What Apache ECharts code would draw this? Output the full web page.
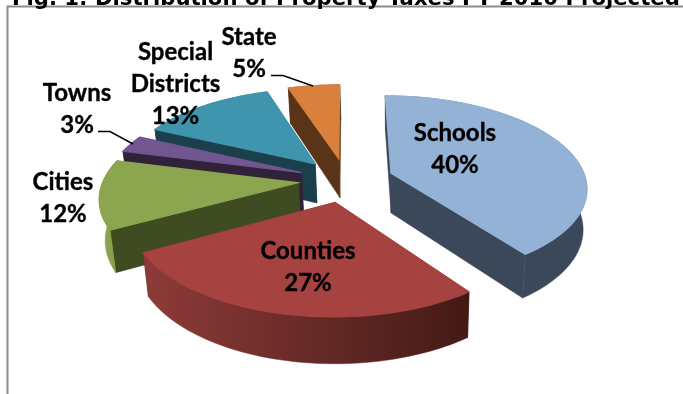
<!DOCTYPE html>
<html>
<head>
<meta charset="utf-8">
<style>html,body{margin:0;padding:0;background:#fff}#chart{width:683px;height:394px}</style>
<script src="https://cdn.jsdelivr.net/npm/echarts@6/dist/echarts.min.js"></script>
</head>
<body>
<div id="chart"></div>
<script>
// Share of property taxes by recipient, percent.
const categories = ['Schools', 'Counties', 'Cities', 'Towns', 'Special Districts', 'State'];
const shares = [40, 27, 12, 3, 13, 5];

// Face colours for each slice.
const topColors = ['#94b1d6', '#a6423f', '#8ba64e', '#72568f', '#3f95ad', '#d9803c'];
const cutColors = ['#3b485a', '#4a1c18', '#3f4c22', '#2f2239', '#1b3f4b', '#5a3419'];
const wallFrom = ['#3b485a', '#8e3b38', '#8ca950', '#2f2239', '#1b3f4b', '#5a3419'];
const wallTo = ['#3b485a', '#431a16', '#7f9b49', '#2f2239', '#1b3f4b', '#5a3419'];

// Oblique view of the pie: ellipse radii, perspective strength, explosion.
const view = { cx: 346, cy: 180, rx: 195, ry: 90.5, persp: 0.146, explode: 0.245, depth: 40 };

const total = shares.reduce((a, b) => a + b, 0);
let running = 0;
const slices = shares.map((value, index) => {
  const start = running / total * Math.PI * 2;
  running += value;
  const end = running / total * Math.PI * 2;
  return { index, start, end, mid: (start + end) / 2 };
});
// Paint the slices from the far side of the disc to the near side.
const paintOrder = slices.slice().sort((a, b) => -Math.cos(a.mid) + Math.cos(b.mid)).map(s => s.index);

function project(u, v) {
  const s = 1 / (1 - view.persp * v);
  return [view.cx + view.rx * u * s, view.cy + view.ry * v * s];
}
function drop(p) {
  return [view.cx + 1 + (p[0] - view.cx) * 0.98, p[1] + view.depth + 0.05 * (p[1] - view.cy)];
}
// A hairline stroke in the fill colour closes the seams between adjoining faces.
function poly(points, fill, lineWidth) {
  return { type: 'polygon', shape: { points }, style: { fill, stroke: fill, lineWidth } };
}

function renderSlice(params, api) {
  const slice = slices[api.value(0)];
  const i = slice.index;
  const ax = view.explode * Math.sin(slice.mid);
  const ay = -view.explode * Math.cos(slice.mid);
  const apex = project(ax, ay);
  const arc = [];
  const steps = Math.max(8, Math.round((slice.end - slice.start) * 40));
  for (let k = 0; k <= steps; k++) {
    const t = slice.start + (slice.end - slice.start) * k / steps;
    arc.push(project(ax + Math.sin(t), ay - Math.cos(t)));
  }
  const first = arc[0];
  const last = arc[arc.length - 1];
  const outer = arc.concat(arc.map(drop).reverse());
  const gradient = {
    type: 'linear', x: 0, y: 0, x2: 1, y2: 0,
    colorStops: [{ offset: 0, color: wallFrom[i] }, { offset: 1, color: wallTo[i] }]
  };
  return {
    type: 'group',
    children: [
      poly([apex, first, drop(first), drop(apex)], cutColors[i], 0.5),
      poly([apex, last, drop(last), drop(apex)], cutColors[i], 0.5),
      poly(outer, gradient, 0.5),
      poly([apex].concat(arc), topColors[i], 1.2)
    ]
  };
}

// Label placement: text block centre and optional leader line.
const labelFont = { fontFamily: 'Lato', fontWeight: 700, fontSize: 24, lineHeight: 32, fill: '#000', stroke: '#000', lineWidth: 0.35 };
const labelBlocks = {
  'Schools': { x: 455, y: 149, lines: ['Schools', '40%'] },
  'Counties': { x: 308, y: 267, lines: ['Counties', '27%'] },
  'Cities': { x: 63, y: 198, lines: ['Cities', '12%'] },
  'Towns': { x: 77, y: 109, lines: ['Towns', '3%'] },
  'Special Districts': { x: 175.5, y: 84, lines: ['Special', 'Districts', '13%'] },
  'State': { x: 249, y: 53, lines: ['State', '5%'] }
};

const graphics = [
  { type: 'polyline', shape: { points: [[683, 6.5], [7.5, 6.5], [7.5, 394]] }, style: { stroke: '#8c8c8c', lineWidth: 2, fill: null } },
  { type: 'polyline', z: 20, shape: { points: [[271, 75.5], [283, 75.5], [313, 86]] }, style: { stroke: '#000', lineWidth: 1.5, fill: null } },
  { type: 'polyline', z: 20, shape: { points: [[98, 131.5], [110, 131.5], [133, 144]] }, style: { stroke: '#000', lineWidth: 1.5, fill: null } }
];
categories.forEach(name => {
  const b = labelBlocks[name];
  graphics.push({
    type: 'text', z: 30, x: b.x, y: b.y,
    style: Object.assign({ text: b.lines.join('\n'), align: 'center', verticalAlign: 'middle' }, labelFont)
  });
});

const chart = echarts.init(document.getElementById('chart'), null, { renderer: 'canvas' });
chart.setOption({
  animation: false,
  backgroundColor: '#fff',
  title: {
    text: 'Fig. 1: Distribution of Property Taxes FY 2010 Projected',
    left: 7, top: -16,
    textStyle: { fontFamily: 'DejaVu Sans', fontWeight: 700, fontSize: 21.2, color: '#000' }
  },
  graphic: graphics,
  series: [{
    type: 'custom',
    coordinateSystem: 'none',
    renderItem: renderSlice,
    data: paintOrder.map(i => [i, shares[i], categories[i]]),
    silent: true
  }]
});
</script>
</body>
</html>
